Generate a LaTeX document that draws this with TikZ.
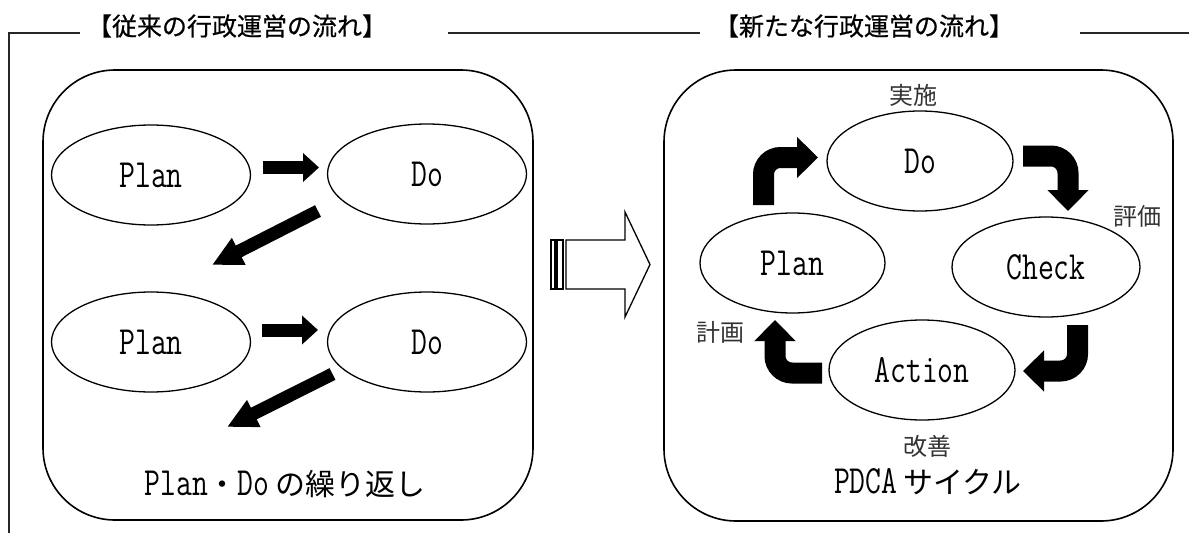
\documentclass[tikz,border=0pt]{standalone}
\usepackage{fontspec}
\newfontfamily\jp{Noto Sans CJK JP}
\newfontfamily\jpt{Noto Sans CJK JP}[FakeBold=0.6]
\usetikzlibrary{shapes.geometric,arrows.meta}
\newcommand\lat[1]{{\fontsize{40}{44}\selectfont\ttfamily\addfontfeature{FakeBold=1}\scalebox{0.77}[1]{#1}}}
\newcommand\jpb[1]{{\fontsize{30}{36}\selectfont\jp #1}}
\tikzset{
  ell/.style={ellipse, draw, line width=1.3pt, inner sep=0pt, minimum width=#1, minimum height=100pt},
  ell/.default=199pt,
  roundbox/.style={draw, line width=1.6pt, rounded corners=72pt},
  frame/.style={draw, line width=1.2pt, black!85},
  ttl/.style={font=\jpt\fontsize{25}{30}\selectfont},
  lbl/.style={font=\jp\fontsize{24}{28}\selectfont, text=black!80},
  strA/.style={line width=13pt, -{Triangle[width=28pt,length=16pt]}},
  diagA/.style={line width=13pt, -{Triangle[width=28pt,length=30pt]}},
  curA/.style={line width=21pt, rounded corners=17pt, -{Triangle[width=40pt,length=21pt]}},
  hollow/.style={draw, line width=1.3pt, fill=white}
}
\begin{document}
\begin{tikzpicture}[x=1pt,y=-1pt]
\useasboundingbox (0,0) rectangle (1189,533);
% outer frame
\draw[frame] (9,533) -- (9,33) -- (80,33);
\draw[frame] (448,33) -- (700,33);
\draw[frame] (1080,33) -- (1189,33);
\node[ttl] (t1) at (237,26) {【従来の行政運営の流れ】};
\node[ttl] (t2) at (864,26) {【新たな行政運営の流れ】};
% boxes
\draw[roundbox] (43,70) rectangle (533,520);
\draw[roundbox] (664,70) rectangle (1173,521);
% left ellipses
\node[ell] (p1) at (151,175) {\lat{Plan}};
\node[ell] (d1) at (427,174) {\lat{Do}};
\node[ell] (p2) at (151,342) {\lat{Plan}};
\node[ell] (d2) at (427,342) {\lat{Do}};
\coordinate (a1s) at (263,167.5); \coordinate (a1e) at (319,167.5);
\coordinate (a2s) at (262,330);   \coordinate (a2e) at (318,330);
\coordinate (g1s) at (318,211);   \coordinate (g1e) at (212,265);
\coordinate (g2s) at (332.5,374); \coordinate (g2e) at (227,427);
\draw[strA] (a1s) -- (a1e);
\draw[strA] (a2s) -- (a2e);
\draw[diagA] (g1s) -- (g1e);
\draw[diagA] (g2s) -- (g2e);
\node (rep) at (285,484) {\lat{Plan}\jpb{・}\lat{Do}\hspace{6pt}\jpb{の繰り返し}};
% hollow arrow
\draw[hollow] (551,240) rectangle (555,289);
\draw[hollow] (557,240) rectangle (563,289);
\draw[hollow] (566,240) -- (625,240) -- (625,212) -- (650,264.5) -- (625,317) -- (625,289) -- (566,289) -- cycle;
% right ellipses
\node[ell=186pt] (rd) at (920,161) {\lat{Do}};
\node[ell=185pt] (rp) at (792.5,263) {\lat{Plan}};
\node[ell=188pt] (rc) at (1046,267) {\lat{Check}};
\node[ell=186pt] (ra) at (922,370) {\lat{Action}};
\node[lbl] (l1) at (913,95) {実施};
\node[lbl] (l2) at (1137,216) {評価};
\node[lbl] (l3) at (720,332) {計画};
\node[lbl] (l4) at (927,446) {改善};
\node (pdca) at (928,482) {\lat{PDCA}\hspace{6pt}\jpb{サイクル}};
% curved arrows
\coordinate (c1s) at (763.5,205); \coordinate (c1m) at (763.5,157.5); \coordinate (c1e) at (818,157.5);
\coordinate (c2s) at (1023,156);  \coordinate (c2m) at (1068,156);    \coordinate (c2e) at (1068,211);
\coordinate (c3s) at (1077.5,325);\coordinate (c3m) at (1077.5,371);  \coordinate (c3e) at (1023,371);
\coordinate (c4s) at (822,373);   \coordinate (c4m) at (775,373);     \coordinate (c4e) at (775,320);
\draw[curA] (c1s) -- (c1m) -- (c1e);
\draw[curA] (c2s) -- (c2m) -- (c2e);
\draw[curA] (c3s) -- (c3m) -- (c3e);
\draw[curA] (c4s) -- (c4m) -- (c4e);
\end{tikzpicture}
\end{document}
